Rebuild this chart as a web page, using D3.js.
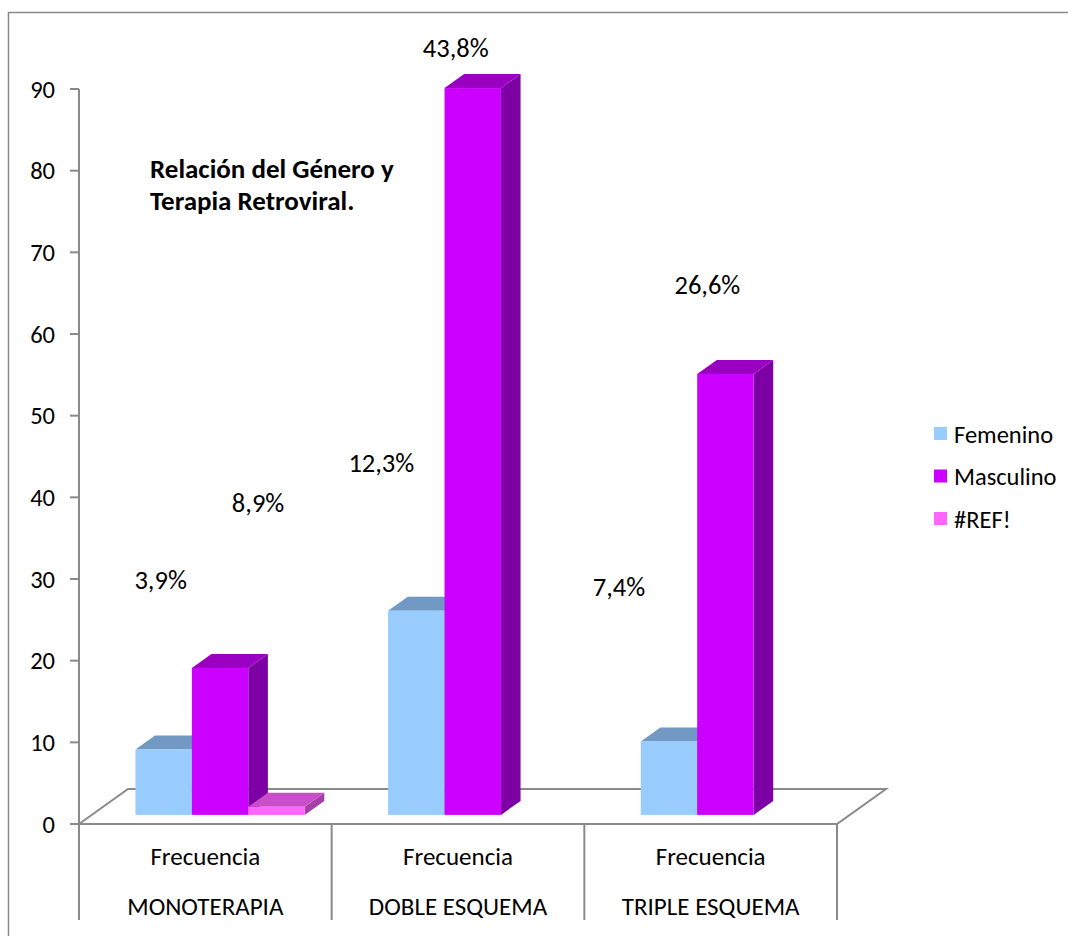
<!DOCTYPE html>
<html>
<head>
<meta charset="utf-8">
<script src="https://cdn.jsdelivr.net/npm/d3@7/dist/d3.min.js"></script>
<style>
  html, body { margin: 0; padding: 0; background: #fff; }
  svg { display: block; }
  text { font-family: Carlito, Lato, "Open Sans", sans-serif; fill: #000; }
</style>
</head>
<body>
<svg id="chart" width="1068" height="936"></svg>
<script>
// ---- data ----
const categories = ["MONOTERAPIA", "DOBLE ESQUEMA", "TRIPLE ESQUEMA"];
const subLabels = ["Frecuencia", "Frecuencia", "Frecuencia"];
const seriesNames = ["Femenino", "Masculino", "#REF!"];
const femenino = [8, 25, 9];
const masculino = [18, 89, 54];
const refSeries = [1, 0, 0];
const yTicks = [0, 10, 20, 30, 40, 50, 60, 70, 80, 90];
const pctText = ["3,9%", "8,9%", "12,3%", "43,8%", "7,4%", "26,6%"];
const titleLines = ["Relación del Género y", "Terapia Retroviral."];

// ---- layout ----
const W = 1068, H = 936;
const svg = d3.select("#chart");
const gray = "#8a8a8a";

const plot = { left: 79, right: 837, bottom: 824, top: 89 };
const floorDepth = { dx: 49, dy: -35 };       // front-to-back edge of the floor
const barFront = 0.26, barBack = 0.66;        // bar depth range as a floor fraction

const colors = {
  "Femenino":  { front: "#99ccff", top: "#7199c3", side: "#6b8fb8" },
  "Masculino": { front: "#cc00ff", top: "#9a00c2", side: "#7d00a4" },
  "#REF!":     { front: "#ff66ff", top: "#c94ec9", side: "#a63fa6" }
};

const y = d3.scaleLinear().domain([0, 90]).range([plot.bottom, plot.top]);
const x0 = d3.scaleBand().domain(categories).range([plot.left, plot.right])
  .paddingInner(0.33).paddingOuter(0.165);
const x1 = d3.scaleBand().domain(seriesNames).range([0, x0.bandwidth()]);

// outer chart frame
svg.append("rect").attr("x", 8.5).attr("y", 12.5).attr("width", W + 40).attr("height", H + 40)
  .attr("fill", "none").attr("stroke", gray).attr("stroke-width", 1.5);

// floor
const fl = plot.left, fr = plot.right, fb = plot.bottom;
svg.append("path")
  .attr("d", `M${fl},${fb} L${fl + floorDepth.dx},${fb + floorDepth.dy} L${fr + floorDepth.dx},${fb + floorDepth.dy} L${fr},${fb} Z`)
  .attr("fill", "none").attr("stroke", gray).attr("stroke-width", 2);

// value axis
svg.append("line").attr("x1", fl).attr("x2", fl).attr("y1", y(90)).attr("y2", fb)
  .attr("stroke", gray).attr("stroke-width", 2);
const ticks = svg.append("g");
ticks.selectAll("line").data(yTicks).join("line")
  .attr("x1", fl - 9).attr("x2", fl).attr("y1", d => y(d)).attr("y2", d => y(d))
  .attr("stroke", gray).attr("stroke-width", 2);
ticks.selectAll("text").data(yTicks).join("text")
  .attr("x", 55).attr("y", d => y(d)).attr("dy", "0.35em")
  .attr("text-anchor", "end").attr("font-size", 24.5).text(d => d);

// category table below the floor
const seps = [plot.left].concat(categories.map(c => x0(c) + x0.bandwidth() + x0.step() * x0.paddingInner() / 2));
seps[seps.length - 1] = plot.right;
svg.selectAll("line.sep").data(seps).join("line").attr("class", "sep")
  .attr("x1", d => d).attr("x2", d => d).attr("y1", fb).attr("y2", 920)
  .attr("stroke", gray).attr("stroke-width", 2);
const catCenter = c => x0(c) + x0.bandwidth() / 2;
svg.selectAll("text.sub").data(categories).join("text").attr("class", "sub")
  .attr("x", d => catCenter(d)).attr("y", 865).attr("text-anchor", "middle")
  .attr("font-size", 25).text((d, i) => subLabels[i]);
svg.selectAll("text.cat").data(categories).join("text").attr("class", "cat")
  .attr("x", d => catCenter(d)).attr("y", 915).attr("text-anchor", "middle")
  .attr("font-size", 25).text(d => d);

// 3D columns
const valuesBySeries = { "Femenino": femenino, "Masculino": masculino, "#REF!": refSeries };
const bars = [];
categories.forEach((c, ci) => {
  seriesNames.forEach(s => bars.push({ cat: c, ci, series: s, value: valuesBySeries[s][ci] }));
});
const ox = floorDepth.dx * barFront + 2, oy = floorDepth.dy * barFront;
const ddx = floorDepth.dx * (barBack - barFront), ddy = floorDepth.dy * (barBack - barFront);
const barsG = svg.append("g");
bars.filter(b => b.value > 0).forEach(b => {
  const xl = x0(b.cat) + x1(b.series) + ox;
  const xr = xl + x1.bandwidth();
  const yb = y(0) + oy;
  const yt = y(b.value) + oy;
  const col = colors[b.series];
  const g = barsG.append("g");
  g.append("path").attr("d", `M${xr},${yb} L${xr + ddx},${yb + ddy} L${xr + ddx},${yt + ddy} L${xr},${yt} Z`)
    .attr("fill", col.side);
  g.append("path").attr("d", `M${xl},${yt} L${xl + ddx},${yt + ddy} L${xr + ddx},${yt + ddy} L${xr},${yt} Z`)
    .attr("fill", col.top);
  g.append("rect").attr("x", xl).attr("y", yt).attr("width", xr - xl).attr("height", yb - yt)
    .attr("fill", col.front);
});

// percentage labels: level on the value axis and horizontal shift from the bar centre
const pctPlace = [
  { level: 29.9, shift: -3 },
  { level: 39.4, shift: 38 },
  { level: 44.2, shift: -35 },
  { level: 95.1, shift: -17 },
  { level: 29.0, shift: -50 },
  { level: 66.0, shift: -18 }
];
const labelled = bars.filter(b => b.series !== "#REF!");
svg.selectAll("text.pct").data(labelled).join("text").attr("class", "pct")
  .attr("x", (b, i) => x0(b.cat) + x1(b.series) + ox + x1.bandwidth() / 2 + pctPlace[i].shift)
  .attr("y", (b, i) => y(pctPlace[i].level)).attr("dy", "0.35em")
  .attr("text-anchor", "middle").attr("font-size", 26.5).text((b, i) => pctText[i]);

// title
svg.append("text").attr("x", 150).attr("y", 178).attr("font-size", 27).attr("font-weight", "bold")
  .selectAll("tspan").data(titleLines).join("tspan")
  .attr("x", 150).attr("dy", (d, i) => i === 0 ? 0 : 32).text(d => d);

// legend
const leg = svg.append("g").attr("transform", "translate(934,427)");
const legRows = leg.selectAll("g").data(seriesNames).join("g")
  .attr("transform", (d, i) => `translate(0,${i * 42.5})`);
legRows.append("rect").attr("width", 13).attr("height", 13).attr("fill", d => colors[d].front);
legRows.append("text").attr("x", 20).attr("y", 7).attr("dy", "0.35em")
  .attr("font-size", 24.5).text(d => d);
</script>
</body>
</html>
